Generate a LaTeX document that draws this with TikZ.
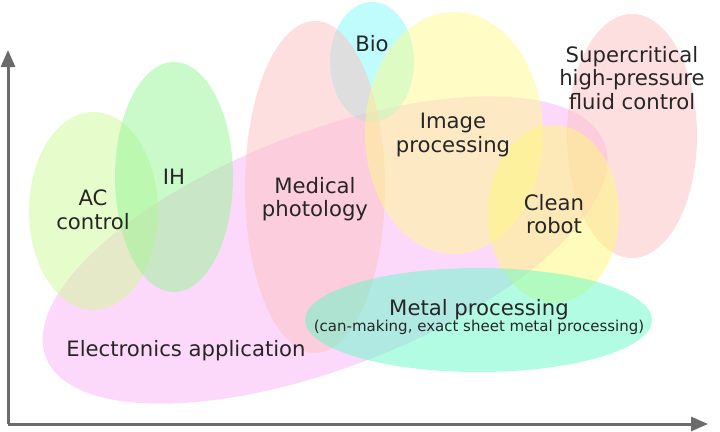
\documentclass[tikz,border=0pt]{standalone}
\usepackage{fontspec}
\setmainfont{DejaVu Sans}
\usetikzlibrary{arrows.meta}
\definecolor{axisgrey}{HTML}{6B6B6B}
\definecolor{txt}{HTML}{262626}
\definecolor{elec}{RGB}{250,180,245}
\definecolor{acg}{RGB}{205,250,150}
\definecolor{ihg}{RGB}{150,245,150}
\definecolor{medp}{RGB}{252,192,192}
\definecolor{bioc}{RGB}{130,250,250}
\definecolor{imgy}{RGB}{255,250,140}
\definecolor{supp}{RGB}{252,192,192}
\definecolor{cleany}{RGB}{255,250,120}
\definecolor{metal}{RGB}{100,250,200}
\begin{document}
\begin{tikzpicture}[x=1pt, y=-1pt,
  blob/.style = {fill opacity=0.5},
  label/.style = {text=txt, align=center, inner sep=0pt, font=\fontsize{21.2}{23.5}\selectfont},
  small/.style = {text=txt, inner sep=0pt, font=\fontsize{15}{16}\selectfont},
  axis/.style = {draw=axisgrey, line width=3pt, -{Triangle[length=17pt, width=14pt]}}]
  \useasboundingbox (0,0) rectangle (720,431);
  % areas
  \fill[blob, elec, shift={(325,250)}, rotate=21] (0,0) ellipse [x radius=299, y radius=118];
  \fill[blob, acg] (93.5,211) ellipse [x radius=64.5, y radius=99];
  \fill[blob, ihg] (174,177) ellipse [x radius=59, y radius=115];
  \fill[blob, bioc] (372,62) ellipse [x radius=42, y radius=60];
  \fill[blob, medp] (315,187) ellipse [x radius=70, y radius=166];
  \fill[blob, imgy] (454,133) ellipse [x radius=89, y radius=121];
  \fill[blob, supp] (632,136) ellipse [x radius=65, y radius=122];
  \fill[blob, cleany] (553.5,214) ellipse [x radius=65.5, y radius=89];
  \fill[blob, metal] (478.5,320) ellipse [x radius=173.5, y radius=52];
  % axes
  \coordinate (o) at (8,424);
  \coordinate (ytip) at (8,50);
  \coordinate (xtip) at (708,424);
  \draw[axis] (o) -- (ytip);
  \draw[axis] (o) -- (xtip);
  % labels
  \node[label] (ac) at (93,210) {AC\\control};
  \node[label] (ih) at (174,177) {IH};
  \node[label] (med) at (315,199) {Medical\\photology};
  \node[label] (bio) at (372,44) {Bio};
  \node[label] (img) at (453,135) {Image\\processing};
  \node[label] (sup) at (632,78) {Supercritical\\high-pressure\\fluid control};
  \node[label] (clean) at (554,214) {Clean\\robot};
  \node[label] (metal) at (479,310) {Metal processing};
  \node[small] (metalsub) at (479,327) {(can-making, exact sheet metal processing)};
  \node[label] (elec) at (186,351) {Electronics application};
\end{tikzpicture}
\end{document}
